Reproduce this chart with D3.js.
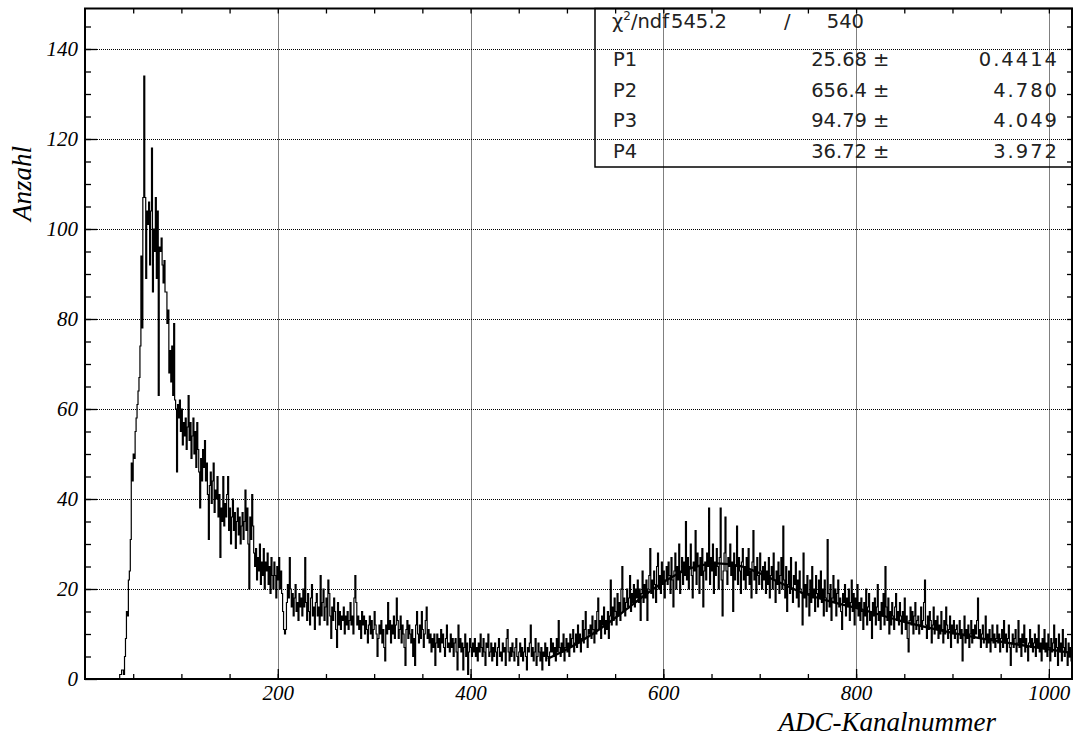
<!DOCTYPE html>
<meta charset="utf-8">
<style>
body { margin: 0; background: #fff; }
.tick-label text { font-family: "Liberation Serif", "Times New Roman", serif; font-style: italic; font-size: 21px; fill: #000; }
.axis-title { font-family: "Liberation Serif", "Times New Roman", serif; font-style: italic; font-size: 27px; }
.stats text { font-family: "DejaVu Sans", sans-serif; font-size: 19.5px; fill: #222; }
</style>
<svg width="1075" height="740"></svg>
<script src="https://d3js.org/d3.v7.min.js"></script>
<script>
var width = 1075,
    height = 740;

// histogram counts, one per ADC channel, starting at channel 24
var firstChannel = 24;
var counts = [
  0,0,0,0,0,0,0,0,0,0,0,0,1,1,2,2,1,5,9,15,
  14,22,24,31,48,44,50,49,55,58,61,64,67,74,94,78,107,134,107,89,
  104,101,106,92,104,118,86,100,95,107,89,104,63,96,95,98,92,88,93,86,
  86,79,82,68,73,66,74,63,79,62,60,46,61,58,62,55,60,52,57,54,
  58,51,56,63,53,57,49,54,58,50,55,47,57,51,46,38,49,44,51,47,
  53,44,48,41,31,43,46,39,44,48,37,42,40,45,36,41,27,38,35,45,
  34,39,36,41,45,33,38,30,36,40,33,37,29,35,38,32,36,30,34,37,
  31,35,42,33,38,30,20,36,31,41,34,28,25,29,22,27,24,30,21,26,
  23,29,20,26,24,28,21,25,19,27,23,20,26,23,18,25,22,27,20,24,
  19,15,11,10,11,17,21,18,27,20,16,19,14,18,21,15,17,13,19,16,
  18,14,20,16,27,17,13,19,15,12,18,21,14,16,11,17,19,14,16,12,
  23,14,17,20,13,16,18,12,22,19,14,9,16,13,18,15,11,7,17,12,
  15,11,14,13,16,10,14,12,15,11,13,17,12,14,10,18,23,17,12,14,
  11,13,9,15,12,14,10,13,11,8,12,14,10,13,9,11,15,12,10,5,
  9,12,10,13,8,11,7,4,12,10,17,11,13,8,12,10,14,9,12,18,
  13,9,11,14,8,12,10,7,3,11,13,9,12,10,8,11,5,9,3,12,
  15,10,8,12,9,15,11,7,10,13,16,9,11,8,10,6,9,7,10,3,
  8,10,7,9,6,11,8,10,7,5,9,12,7,8,6,10,7,9,5,8,
  9,6,2,12,7,9,6,8,2,7,10,5,8,1,6,9,7,5,8,6,
  9,5,7,4,8,6,10,7,5,9,6,3,8,7,10,5,6,8,4,7,
  5,8,6,3,7,9,5,6,4,8,6,7,3,9,11,6,4,7,5,8,
  6,4,7,9,5,3,6,8,5,7,4,6,9,5,2,7,6,8,12,5,
  7,4,6,9,3,5,8,6,4,7,2,6,5,8,4,7,5,3,6,9,
  6,8,5,7,4,9,6,13,7,5,8,6,10,4,7,9,6,8,5,10,
  7,9,11,6,8,10,7,12,8,10,6,9,13,8,11,15,9,7,11,10,
  12,9,14,11,8,13,10,15,18,11,13,9,14,12,16,10,13,11,15,9,
  14,22,12,16,13,18,15,12,19,14,17,13,20,25,15,18,14,17,20,16,
  18,23,15,19,17,21,16,20,18,22,17,20,13,19,24,17,21,18,22,13,
  20,23,29,19,22,18,24,21,17,25,28,20,23,19,26,21,24,18,22,25,
  21,26,23,19,27,22,16,24,28,20,25,22,30,19,24,27,21,26,23,35,
  22,27,20,25,30,23,18,26,24,33,21,28,25,19,27,23,29,16,24,26,
  22,28,25,38,21,27,24,30,19,26,23,29,25,20,27,38,22,14,24,28,
  36,24,21,27,25,30,23,26,15,28,22,25,34,21,27,24,19,26,29,22,
  25,20,27,23,29,21,24,18,26,33,22,25,19,27,23,21,28,24,20,25,
  22,26,19,24,21,27,18,23,25,20,28,22,17,24,21,26,19,23,27,20,
  34,22,18,25,15,21,24,19,27,20,17,23,21,26,18,22,16,24,20,19,
  12,28,18,21,16,23,19,14,22,17,25,18,20,15,23,19,16,22,18,24,
  17,20,14,22,18,15,31,19,16,21,13,18,23,17,20,14,19,22,16,18,
  15,11,19,17,21,14,18,16,20,13,17,22,15,19,12,18,16,21,14,17,
  13,18,15,11,17,14,20,12,16,19,13,15,9,17,14,18,12,16,21,13,
  15,11,17,14,19,12,25,16,13,18,10,15,12,17,14,11,16,19,13,15,
  12,17,14,10,15,13,18,11,14,9,6,13,16,12,15,10,14,17,11,13,
  14,10,12,16,11,13,17,22,12,9,14,11,15,13,8,12,16,10,13,11,
  14,9,12,10,15,11,8,13,10,16,12,9,11,14,7,12,10,13,9,11,
  12,8,10,13,9,11,4,10,14,8,11,9,12,7,10,13,8,11,9,12,
  10,13,18,9,11,7,10,12,8,9,14,7,10,8,11,6,9,12,8,10,
  7,9,12,8,10,6,9,11,7,13,8,10,6,9,12,7,3,8,10,7,
  9,11,6,8,13,7,9,5,10,8,12,6,9,7,4,8,11,7,9,6,
  8,10,5,9,7,12,6,8,4,9,7,11,6,8,5,10,7,4,9,6,
  8,12,5,9,7,3,10,6,8,4,11,7,5,9,6,3,8,5,7,4
];

// fit curve
var fitChannels = [480, 500, 520, 540, 560, 580, 600, 620, 640, 656, 680, 700, 720, 745, 770, 800, 850, 920, 1000, 1024];
var fitValues   = [4.5, 6.6, 9.1, 12.0, 15.2, 18.5, 21.5, 23.9, 25.3, 25.7, 25.1, 23.5, 21.5, 19.1, 17.4, 15.8, 12.7, 9.4, 6.6, 5.8];

var xTicks = [200, 400, 600, 800, 1000];
var yTicks = [0, 20, 40, 60, 80, 100, 120, 140];

var chi2 = "545.2",
    ndf = "540";
var parNames  = ["P1", "P2", "P3", "P4"];
var parValues = ["25.68", "656.4", "94.79", "36.72"];
var parErrors = ["0.4414", "4.780", "4.049", "3.972"];

var plotLeft = 85, plotRight = 1072, plotTop = 8.5, plotBottom = 679;

var x = d3.scaleLinear().domain([0, 1024]).range([plotLeft, plotRight]);
var y = d3.scaleLinear().domain([0, 149]).range([plotBottom, plotTop]);

var svg = d3.select("svg");

// grid
var grid = svg.append("g");
grid.selectAll(".gx")
  .data(xTicks)
  .enter().append("line")
    .attr("x1", function(d) { return Math.round(x(d)) + 0.5; })
    .attr("x2", function(d) { return Math.round(x(d)) + 0.5; })
    .attr("y1", plotTop)
    .attr("y2", plotBottom);
grid.selectAll(".gy")
  .data(yTicks.filter(function(d) { return d > 0; }))
  .enter().append("line")
    .attr("x1", plotLeft)
    .attr("x2", plotRight)
    .attr("y1", function(d) { return Math.round(y(d)) + 0.5; })
    .attr("y2", function(d) { return Math.round(y(d)) + 0.5; });
grid.selectAll("line")
    .attr("stroke", "#000")
    .attr("stroke-width", 1)
    .attr("stroke-dasharray", "1,1");

// histogram
var histPoints = counts.map(function(d, i) { return [firstChannel + i, d]; });
histPoints.push([1024, 0]);

var histLine = d3.line()
    .x(function(d) { return x(d[0]); })
    .y(function(d) { return y(d[1]); })
    .curve(d3.curveStepAfter);

svg.append("path")
    .attr("d", histLine(histPoints))
    .attr("fill", "none")
    .attr("stroke", "#000")
    .attr("stroke-width", 1.2);

// fit
var fitLine = d3.line()
    .x(function(d, i) { return x(fitChannels[i]); })
    .y(function(d) { return y(d); })
    .curve(d3.curveMonotoneX);

svg.append("path")
    .attr("d", fitLine(fitValues))
    .attr("fill", "none")
    .attr("stroke", "#000")
    .attr("stroke-width", 2.3);

// axes, ticks pointing inwards
function clean(g) {
  g.select(".domain").remove();
  g.selectAll("line").attr("stroke-width", 1.3);
}

svg.append("g")
    .attr("transform", "translate(0," + plotBottom + ")")
    .call(d3.axisBottom(x).tickValues(d3.range(50, 1024, 50)).tickSize(-5).tickFormat(""))
    .call(clean);
svg.append("g")
    .attr("class", "tick-label")
    .attr("transform", "translate(0," + plotBottom + ")")
    .call(d3.axisBottom(x).tickValues(xTicks).tickSize(-10).tickPadding(6).tickFormat(d3.format("d")))
    .call(clean)
    .attr("font-family", null).attr("font-size", null);

svg.append("g")
    .attr("transform", "translate(0," + plotTop + ")")
    .call(d3.axisTop(x).tickValues(d3.range(50, 1024, 50)).tickSize(-5).tickFormat(""))
    .call(clean);

svg.append("g")
    .attr("transform", "translate(" + plotLeft + ",0)")
    .call(d3.axisLeft(y).tickValues(d3.range(5, 149, 5)).tickSize(-6).tickFormat(""))
    .call(clean);
svg.append("g")
    .attr("class", "tick-label")
    .attr("transform", "translate(" + plotLeft + ",0)")
    .call(d3.axisLeft(y).tickValues(yTicks).tickSize(-12).tickPadding(7).tickFormat(d3.format("d")))
    .call(clean)
    .attr("font-family", null).attr("font-size", null);

svg.append("g")
    .attr("transform", "translate(" + plotRight + ",0)")
    .call(d3.axisRight(y).tickValues(d3.range(5, 149, 5)).tickSize(-5).tickFormat(""))
    .call(clean);

// frame
svg.append("rect")
    .attr("x", plotLeft)
    .attr("y", plotTop)
    .attr("width", plotRight - plotLeft)
    .attr("height", plotBottom - plotTop)
    .attr("fill", "none")
    .attr("stroke", "#000")
    .attr("stroke-width", 2);

// titles
svg.append("text")
    .attr("class", "axis-title")
    .attr("x", 996)
    .attr("y", 731)
    .attr("text-anchor", "end")
    .text("ADC-Kanalnummer");

svg.append("text")
    .attr("class", "axis-title")
    .attr("transform", "translate(31,146) rotate(-90)")
    .attr("text-anchor", "end")
    .text("Anzahl");

// stats box
var stats = svg.append("g").attr("class", "stats");

stats.append("rect")
    .attr("x", 595)
    .attr("y", plotTop)
    .attr("width", plotRight - 595)
    .attr("height", 167 - plotTop)
    .attr("fill", "none")
    .attr("stroke", "#000")
    .attr("stroke-width", 1.5);

var head = stats.append("text").attr("x", 612).attr("y", 28);
head.append("tspan").text("\u03c7");
head.append("tspan").attr("dy", -8).attr("font-size", 12).text("2");
head.append("tspan").attr("dy", 8).text("/ndf");
stats.append("text").attr("x", 671).attr("y", 28).text(chi2);
stats.append("text").attr("x", 784).attr("y", 28).text("/");
stats.append("text").attr("x", 864).attr("y", 28).attr("text-anchor", "end").text(ndf);

parNames.forEach(function(name, i) {
  var rowY = 66 + i * 30.5;
  stats.append("text").attr("x", 613).attr("y", rowY).text(name);
  stats.append("text").attr("x", 867).attr("y", rowY).attr("text-anchor", "end").text(parValues[i]);
  stats.append("text").attr("x", 873).attr("y", rowY).text("\u00b1");
  stats.append("text").attr("x", 1059).attr("y", rowY).attr("text-anchor", "end")
      .attr("letter-spacing", 2).text(parErrors[i]);
});
</script>
